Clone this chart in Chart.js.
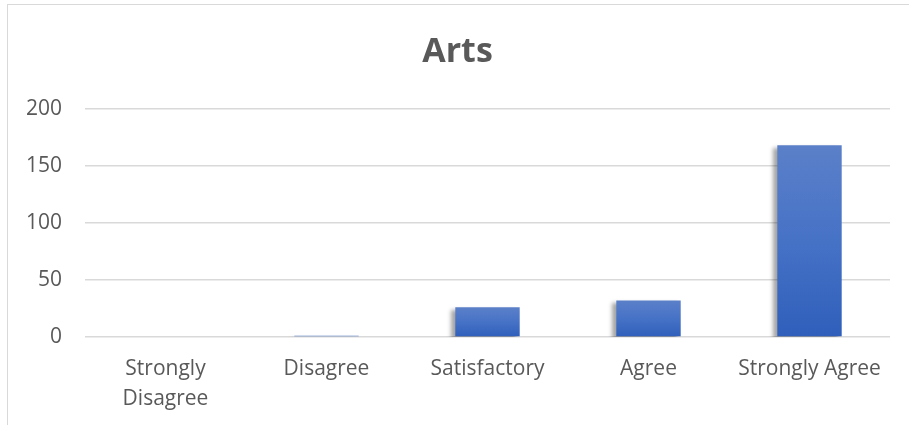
<!DOCTYPE html>
<html>
<head>
<meta charset="utf-8">
<script src="https://cdn.jsdelivr.net/npm/chart.js@4"></script>
<style>
  body { margin: 0; background: #fff; }
  #frame { position: absolute; left: 7px; top: 4px; width: 940px; height: 460px; border: 1px solid #d9d9d9; }
  #wrap { position: absolute; left: 0; top: 0; width: 909px; height: 425px; }
</style>
</head>
<body>
<div id="frame"></div>
<div id="wrap"><canvas id="myChart"></canvas></div>
<script>
const categories = [
  ["Strongly", "Disagree"],
  "Disagree",
  "Satisfactory",
  "Agree",
  "Strongly Agree",
];
const artsValues = [0, 1, 26, 32, 168];
const yTicks = [0, 50, 100, 150, 200];

const textColor = "#595959";
const fontName = "'Open Sans', sans-serif";

// gradient per bar, from the bar top to the zero line
function barFill(c) {
  const chart = c.chart;
  if (!chart.chartArea) return "#4472c4";
  const y = chart.scales.y;
  const top = y.getPixelForValue(c.raw);
  const bottom = y.getPixelForValue(0);
  if (bottom - top < 2) return "#4a72c4";
  const g = chart.ctx.createLinearGradient(0, top, 0, bottom);
  g.addColorStop(0, "#5b80c9");
  g.addColorStop(0.5, "#4672c6");
  g.addColorStop(1, "#2f5fbb");
  return g;
}

const shadowPlugin = {
  id: "barShadow",
  beforeDatasetsDraw(chart) {
    const ctx = chart.ctx;
    ctx.save();
    ctx.shadowColor = "rgba(0,0,0,0.35)";
    ctx.shadowOffsetX = -4;
    ctx.shadowOffsetY = 3;
    ctx.shadowBlur = 4;
  },
  afterDatasetsDraw(chart) {
    chart.ctx.restore();
  },
};

const ctx = document.getElementById("myChart").getContext("2d");

const myChart = new Chart(ctx, {
  type: "bar",
  data: {
    labels: categories,
    datasets: [
      {
        label: "Arts",
        data: artsValues,
        backgroundColor: barFill,
        borderWidth: 0,
        barPercentage: 0.4,
        categoryPercentage: 1,
      },
    ],
  },
  options: {
    responsive: true,
    maintainAspectRatio: false,
    animation: false,
    layout: { padding: { left: 25, right: 19, top: 0, bottom: 0 } },
    plugins: {
      legend: { display: false },
      tooltip: { enabled: false },
      title: {
        display: true,
        text: "Arts",
        color: textColor,
        font: { family: fontName, size: 34, weight: "bold", lineHeight: 1.2 },
        padding: { top: 32, bottom: 36 },
      },
    },
    scales: {
      x: {
        grid: { display: false },
        border: { display: false },
        ticks: {
          color: textColor,
          font: { family: fontName, size: 21, lineHeight: 1.43 },
          padding: 9,
          maxRotation: 0,
          autoSkip: false,
        },
        afterFit: (s) => { s.height = 88; },
      },
      y: {
        min: 0,
        max: 200,
        afterBuildTicks: (s) => { s.ticks = yTicks.map((v) => ({ value: v })); },
        grid: { color: "#d9d9d9", lineWidth: 1.5, drawTicks: false },
        border: { display: false },
        ticks: {
          color: textColor,
          font: { family: fontName, size: 21 },
          padding: 23,
        },
        afterFit: (s) => { s.width = 60; },
      },
    },
  },
  plugins: [shadowPlugin],
});
</script>
</body>
</html>
